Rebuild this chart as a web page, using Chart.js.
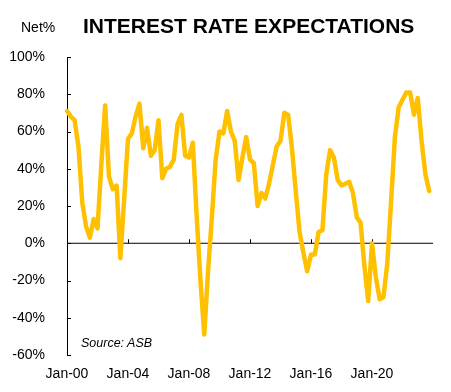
<!DOCTYPE html>
<html>
<head>
<meta charset="utf-8">
<script src="https://cdn.jsdelivr.net/npm/chart.js@4.4.1/dist/chart.umd.min.js"></script>
<style>
    body { margin: 0; background: #fff; }
    #wrap { position: relative; width: 451px; height: 392px; font-family: "Liberation Sans", Arial, sans-serif; color: #000; }
    #wrap canvas { position: absolute; left: 0; top: 0; }
    .txt { position: absolute; line-height: 1; white-space: nowrap; }
    #title { left: 83px; top: 15px; font-size: 21px; font-weight: bold; }
    #unit { left: 21px; top: 20px; font-size: 14px; }
    #source { left: 81px; top: 337px; font-size: 12.5px; font-style: italic; }
</style>
</head>
<body>
<div id="wrap">
    <canvas id="rateChart" width="451" height="392"></canvas>
    <div class="txt" id="title">INTEREST RATE EXPECTATIONS</div>
    <div class="txt" id="unit">Net%</div>
    <div class="txt" id="source">Source: ASB</div>
</div>
<script>
// ASB 금리 기대 (분기별, 순비율 %)
const startYear = 2000;
const endYear = 2024;
const quarterMonths = ['Jan', 'Apr', 'Jul', 'Oct'];
const tickLabels = ['Jan-00', 'Jan-04', 'Jan-08', 'Jan-12', 'Jan-16', 'Jan-20'];
const yTicks = [-60, -40, -20, 0, 20, 40, 60, 80, 100];

// 2000년 1분기 ~ 2023년 4분기
const netExpect = [
    71, 68, 66, 52, 22, 9, 3, 13, 8, 42, 74, 36, 29, 31, -8, 24,
    56, 59, 68, 75, 51, 62, 47, 50, 66, 35, 40, 41, 45, 64, 69, 47,
    46, 54, 15, -20, -49, -15, 14, 45, 60, 59, 71, 60, 55, 34, 46, 57,
    45, 43, 20, 27, 24, 32, 42, 52, 55, 70, 69, 51, 28, 6, -5, -15,
    -6, -6, 6, 7, 37, 50, 46, 34, 31, 32, 33, 27, 14, 11, -12, -31,
    0, -18, -30, -29, -11, 22, 57, 73, 77, 81, 81, 69, 78, 55, 37, 28
];

// 분기 라벨 생성
const quarters = [];
for (let y = startYear; y <= endYear; y++) {
    quarterMonths.forEach(m => {
        if (quarters.length <= (endYear - startYear) * 4) {
            quarters.push(m + '-' + String(y).slice(2));
        }
    });
}

// 안쪽 눈금 + 0% 기준선
const axisMarks = {
    id: 'axisMarks',
    beforeDatasetsDraw(chart) {
        const { ctx, chartArea, scales } = chart;
        const zeroY = scales.y.getPixelForValue(0);
        ctx.save();
        ctx.strokeStyle = '#000';
        ctx.lineWidth = 1;
        ctx.beginPath();
        ctx.moveTo(chartArea.left, zeroY);
        ctx.lineTo(chartArea.right, zeroY);
        yTicks.forEach(v => {
            const py = Math.round(scales.y.getPixelForValue(v)) + 0.5;
            ctx.moveTo(chartArea.left, py);
            ctx.lineTo(chartArea.left + 4, py);
        });
        quarters.forEach((q, i) => {
            if (tickLabels.includes(q)) {
                const px = Math.round(scales.x.getPixelForValue(i)) + 0.5;
                ctx.moveTo(px, zeroY);
                ctx.lineTo(px, zeroY - 4);
            }
        });
        ctx.stroke();
        ctx.restore();
    }
};

new Chart(document.getElementById('rateChart'), {
    type: 'line',
    data: {
        labels: quarters,
        datasets: [{
            data: netExpect,
            borderColor: '#FFC000',
            borderWidth: 4.5,
            borderJoinStyle: 'round',
            borderCapStyle: 'round',
            pointRadius: 0,
            tension: 0,
            fill: false
        }]
    },
    options: {
        responsive: false,
        animation: false,
        layout: { padding: { top: 57, right: 18, bottom: 0, left: 0 } },
        plugins: {
            legend: { display: false },
            tooltip: { enabled: false }
        },
        scales: {
            x: {
                grid: { display: false },
                border: { display: false },
                ticks: {
                    autoSkip: false,
                    maxRotation: 0,
                    padding: 3,
                    color: '#000',
                    font: { family: '"Liberation Sans", Arial, sans-serif', size: 14 },
                    callback: function(value, index) {
                        const lab = quarters[index];
                        return tickLabels.includes(lab) ? lab : '';
                    }
                },
                afterFit: function(scale) { scale.height = 37; }
            },
            y: {
                min: -60,
                max: 100,
                grid: { display: false },
                border: { display: true, color: '#000', width: 1 },
                ticks: {
                    stepSize: 20,
                    padding: 14,
                    color: '#000',
                    font: { family: '"Liberation Sans", Arial, sans-serif', size: 14 },
                    callback: function(value) { return value + '%'; }
                },
                afterFit: function(scale) { scale.width = 67; }
            }
        }
    },
    plugins: [axisMarks]
});
</script>
</body>
</html>
